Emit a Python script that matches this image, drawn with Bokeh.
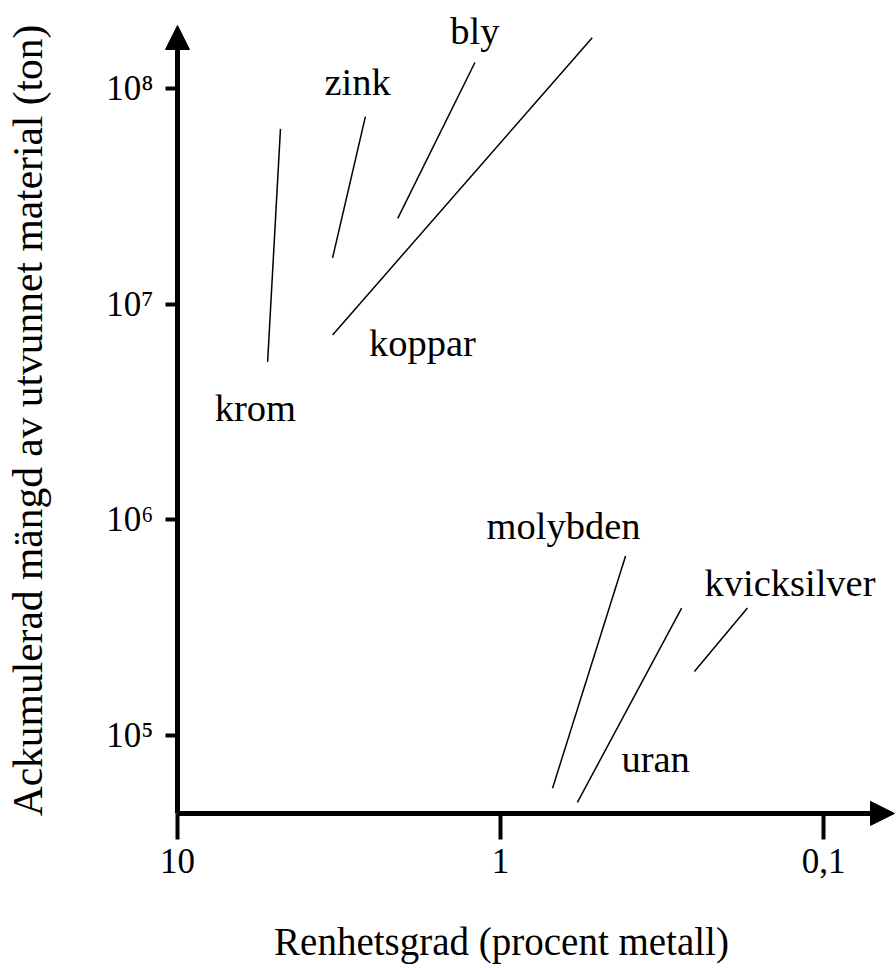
import math
from bokeh.plotting import figure
from bokeh.models import Range1d, FixedTicker, Arrow, NormalHead, ColumnDataSource
from bokeh.embed import file_html
from bokeh.resources import INLINE
from bokeh.core.properties import value

# ---- data ----
metals = ["krom", "zink", "bly", "koppar", "molybden", "uran", "kvicksilver"]
grade_high = [5.26, 3.31, 2.08, 3.31, 0.69, 0.578, 0.251]      # % metal, lower end of line
tonnage_low = [5.4e6, 1.64e7, 2.5e7, 7.2e6, 5.7e4, 4.9e4, 1.98e5]
grade_low = [4.80, 2.62, 1.20, 0.52, 0.41, 0.275, 0.172]        # % metal, upper end of line
tonnage_high = [6.5e7, 7.4e7, 1.32e8, 1.72e8, 6.8e5, 3.9e5, 3.9e5]

label_x = [5.74, 2.77, 1.20, 1.744, 0.638, 0.331, 0.127]
label_y = [3.3e6, 1.07e8, 1.84e8, 6.6e6, 9.4e5, 7.8e4, 5.1e5]

x_ticks = [10, 1, 0.1]
x_tick_labels = ["10", "1", "0,1"]
y_ticks = [1e5, 1e6, 1e7, 1e8]
y_tick_labels = ["10\u2075", "10\u2076", "10\u2077", "10\u2078"]

x_title = "Renhetsgrad (procent metall)"
y_title = "Ackumulerad mängd av utvunnet material (ton)"

# layout constants (data-space anchors of axes, arrows and axis titles)
x_origin = 10.0
y_origin = 10 ** 4.639
x_arrow_tip = 10 ** -1.2198
y_arrow_tip = 10 ** 8.292
x_view = (10 ** 1.548, 10 ** -1.226)
y_view = (10 ** 3.920, 10 ** 8.408)
x_title_pos = (10 ** -0.0031, 10 ** 4.0454)
y_title_pos = (10 ** 1.464, 10 ** 6.461)

FONT = "Liberation Serif"

p = figure(width=896, height=968, x_axis_type="log", y_axis_type="log",
           x_range=Range1d(*x_view), y_range=Range1d(*y_view),
           output_backend="svg", toolbar_location=None, min_border=0,
           min_border_left=0, min_border_right=0, min_border_top=0, min_border_bottom=0)
p.outline_line_color = None
p.xgrid.visible = False
p.ygrid.visible = False
p.background_fill_color = "white"
p.border_fill_color = "white"

# segments
src = ColumnDataSource(dict(x0=grade_high, y0=tonnage_low, x1=grade_low, y1=tonnage_high))
p.segment("x0", "y0", "x1", "y1", source=src, line_color="black", line_width=1.5)

# metal labels
lsrc = ColumnDataSource(dict(x=label_x, y=label_y, t=metals))
p.text("x", "y", text="t", source=lsrc, text_font=value(FONT), text_font_size="38.5px",
       text_align="center", text_baseline="middle", text_color="black")

# axes placed at the origin of the arrows
xa = p.xaxis[0]
xa.fixed_location = y_origin
xa.ticker = FixedTicker(ticks=x_ticks)
xa.major_label_overrides = {t: l for t, l in zip(x_ticks, x_tick_labels)}
xa.axis_line_color = None
xa.major_tick_line_width = 4
xa.major_tick_out = 26
xa.major_tick_in = 0
xa.minor_tick_line_color = None
xa.major_label_text_font = FONT
xa.major_label_text_font_size = "35px"
xa.major_label_text_color = "black"
xa.major_label_standoff = 10

ya = p.yaxis[0]
ya.fixed_location = x_origin
ya.ticker = FixedTicker(ticks=y_ticks)
ya.major_label_overrides = {t: l for t, l in zip(y_ticks, y_tick_labels)}
ya.axis_line_color = None
ya.major_tick_line_width = 4
ya.major_tick_out = 12
ya.major_tick_in = 0
ya.minor_tick_line_color = None
ya.major_label_text_font = FONT
ya.major_label_text_font_size = "35px"
ya.major_label_text_color = "black"
ya.major_label_standoff = 12

# axis titles
p.text(x=[x_title_pos[0]], y=[x_title_pos[1]], text=[x_title], text_font=value(FONT),
       text_font_size="39px", text_align="center", text_baseline="middle", text_color="black")
p.text(x=[y_title_pos[0]], y=[y_title_pos[1]], text=[y_title], text_font=value(FONT),
       text_font_size="41.5px", text_align="center", text_baseline="middle", text_color="black",
       angle=math.pi / 2)

# axis arrows
p.add_layout(Arrow(end=NormalHead(size=24, fill_color="black", line_color="black", line_width=1),
                   x_start=x_origin, y_start=y_origin, x_end=x_arrow_tip, y_end=y_origin,
                   line_width=5, line_color="black"))
p.add_layout(Arrow(end=NormalHead(size=24, fill_color="black", line_color="black", line_width=1),
                   x_start=x_origin, y_start=y_origin, x_end=x_origin, y_end=y_arrow_tip,
                   line_width=5, line_color="black"))

open("out.html", "w").write(file_html(p, INLINE))
